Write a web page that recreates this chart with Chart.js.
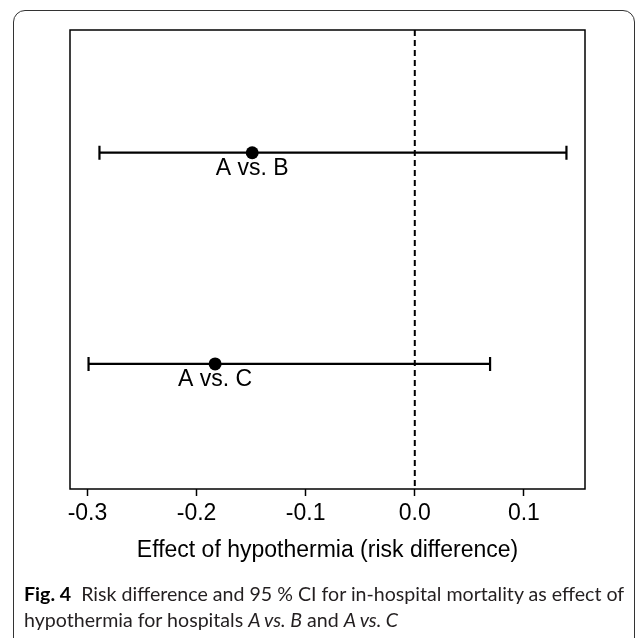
<!DOCTYPE html>
<html>
<head>
<meta charset="utf-8">
<script src="https://cdn.jsdelivr.net/npm/chart.js@4/dist/chart.umd.min.js"></script>
<style>
  html, body { margin:0; padding:0; background:#fff; }
  #wrap { position:relative; width:637px; height:638px; overflow:hidden; }
  #frame { position:absolute; left:13px; top:10px; width:622px; height:640px;
           border:1.3px solid #333; border-radius:12px; box-sizing:border-box; }
  #cv { position:absolute; left:0; top:0; }
  #caption { position:absolute; left:24px; top:581px; width:612px;
             font-family:Lato, 'Open Sans', sans-serif; font-size:19.6px; line-height:26px; color:#231f20; }
  #caption b { color:#000; }
</style>
</head>
<body>
<div id="wrap">
  <div id="frame"></div>
  <canvas id="cv" width="637" height="638"></canvas>
  <div id="caption"><b>Fig. 4</b>&nbsp; Risk difference and 95 % CI for in-hospital mortality as effect of hypothermia for hospitals <i>A vs. B</i> and <i>A vs. C</i></div>
</div>
<script>
// comparisons, top row first
const labels    = ['A vs. B', 'A vs. C'];
const estimates = [-0.149, -0.183];
const lowerCI   = [-0.289, -0.299];
const upperCI   = [0.139, 0.069];
const rows      = [2, 1];
const xTicks    = [-0.3, -0.2, -0.1, 0.0, 0.1];

const FONT = "'Liberation Sans', Arial, sans-serif";

const errorBars = {
  id: 'errorBars',
  beforeDatasetsDraw(chart) {
    const { ctx, chartArea: a, scales: { x, y } } = chart;
    ctx.save();
    // reference line at 0
    ctx.strokeStyle = '#000';
    ctx.lineWidth = 2;
    ctx.setLineDash([6, 4]);
    const x0 = x.getPixelForValue(0);
    ctx.beginPath(); ctx.moveTo(x0, a.top); ctx.lineTo(x0, a.bottom); ctx.stroke();
    ctx.setLineDash([]);
    // CI whiskers
    labels.forEach((_, i) => {
      const py = y.getPixelForValue(rows[i]);
      const xl = x.getPixelForValue(lowerCI[i]);
      const xu = x.getPixelForValue(upperCI[i]);
      ctx.lineWidth = 2.2;
      ctx.beginPath();
      ctx.moveTo(xl, py); ctx.lineTo(xu, py);
      ctx.moveTo(xl, py - 7); ctx.lineTo(xl, py + 7);
      ctx.moveTo(xu, py - 7); ctx.lineTo(xu, py + 7);
      ctx.stroke();
    });
    ctx.restore();
  },
  afterDatasetsDraw(chart) {
    const { ctx, scales: { x, y } } = chart;
    ctx.save();
    ctx.fillStyle = '#000';
    ctx.font = '23px ' + FONT;
    ctx.textAlign = 'center';
    ctx.textBaseline = 'middle';
    labels.forEach((lab, i) => {
      ctx.fillText(lab, x.getPixelForValue(estimates[i]), y.getPixelForValue(rows[i]) + 16);
    });
    ctx.restore();
  },
  afterDraw(chart) {
    const { ctx, chartArea: a } = chart;
    ctx.save();
    ctx.strokeStyle = '#000';
    ctx.lineWidth = 1.5;
    ctx.strokeRect(a.left, a.top, a.right - a.left, a.bottom - a.top);
    ctx.restore();
  }
};

new Chart(document.getElementById('cv'), {
  type: 'scatter',
  data: {
    datasets: [{
      data: estimates.map((v, i) => ({ x: v, y: rows[i] })),
      pointRadius: 6.5, pointHoverRadius: 6.5,
      pointBackgroundColor: '#000', pointBorderColor: '#000', pointBorderWidth: 0,
    }]
  },
  options: {
    responsive: false, animation: false, events: [],
    layout: { padding: { left: 70, right: 52, top: 30, bottom: 74 } },
    plugins: { legend: { display: false }, tooltip: { enabled: false } },
    scales: {
      x: {
        type: 'linear', min: -0.316, max: 0.156,
        afterBuildTicks: s => { s.ticks = xTicks.map(v => ({ value: v })); },
        afterFit: s => { s.height = 75; },
        ticks: { color: '#000', padding: 4, font: { size: 23, family: FONT },
                 callback: v => Number(v).toFixed(1) },
        grid: { drawOnChartArea: false, drawTicks: true, tickLength: 7, tickColor: '#000', tickWidth: 1.5 },
        border: { display: false },
        title: { display: true, text: 'Effect of hypothermia (risk difference)', color: '#000',
                 padding: 0, font: { size: 23, family: FONT } },
      },
      y: { display: false, min: 0.408, max: 2.581 },
    },
  },
  plugins: [errorBars],
});
</script>
</body>
</html>
